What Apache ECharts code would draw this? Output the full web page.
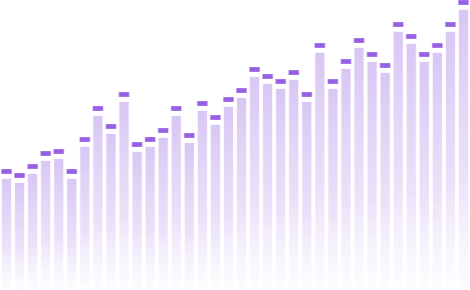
<!DOCTYPE html>
<html>
<head>
<meta charset="utf-8">
<script src="https://cdn.jsdelivr.net/npm/echarts@6/dist/echarts.min.js"></script>
<style>
html,body{margin:0;padding:0;background:#fff;}
#chart{width:470px;height:290px;}
</style>
</head>
<body>
<div id="chart"></div>
<script>
var categories = ['1','2','3','4','5','6','7','8','9','10','11','12','13','14','15','16','17','18','19','20','21','22','23','24','25','26','27','28','29','30','31','32','33','34','35','36'];
var values = [112,108,117,130,132,112,144,175,157,189,139,144,153,175,148,180,166,184,193,214,207,202,211,189,238,202,222,243,229,218,259,247,229,238,259,281];

var chart = echarts.init(document.getElementById('chart'), null, {renderer:'canvas'});
chart.setOption({
  animation: false,
  grid: {left: 0, right: 0, top: 0, bottom: 0},
  xAxis: {type: 'category', data: categories, show: false},
  yAxis: {type: 'value', min: 0, max: 290, show: false},
  series: [
    {
      type: 'bar',
      data: values,
      barWidth: 11,
      itemStyle: {
        borderColor: 'rgba(255,255,255,0.7)',
        borderWidth: 1,
        color: new echarts.graphic.LinearGradient(0, 0, 0, 1, [
          {offset: 0, color: 'rgba(204,179,240,0.75)'},
          {offset: 0.6, color: 'rgba(215,196,244,0.5)'},
          {offset: 1, color: 'rgba(235,225,250,0.1)'}
        ])
      }
    },
    {
      type: 'scatter',
      data: values,
      symbol: 'rect',
      symbolSize: [11, 5],
      symbolOffset: [0, -6.5],
      itemStyle: {
        color: '#9560e4',
        opacity: 1,
        borderColor: 'rgba(255,255,255,0.5)',
        borderWidth: 1
      },
      z: 3
    }
  ]
});
</script>
</body>
</html>
